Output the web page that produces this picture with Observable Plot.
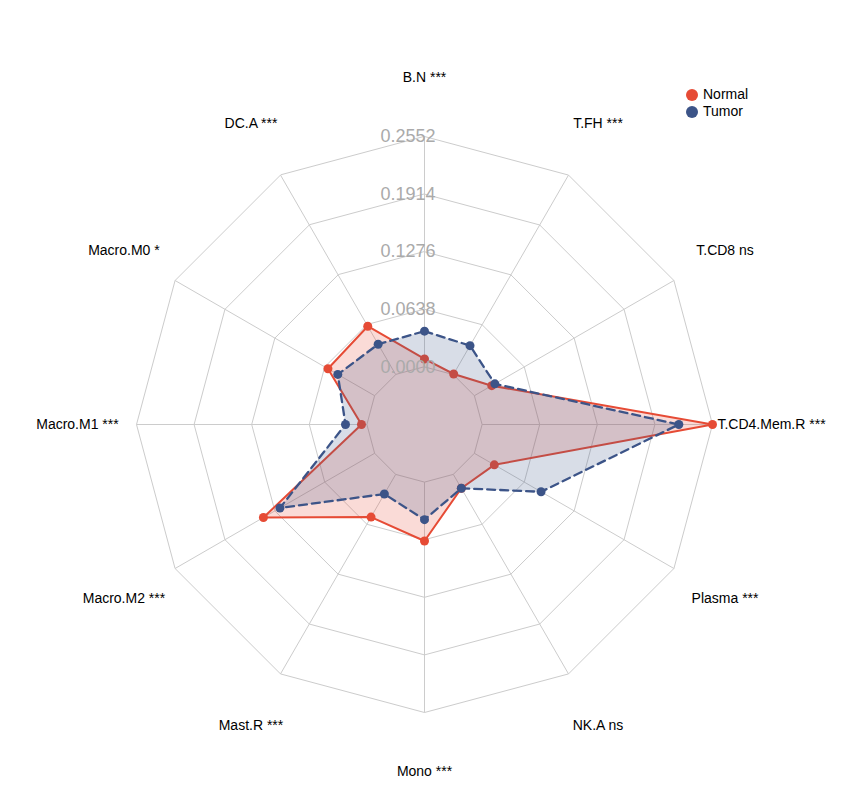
<!DOCTYPE html>
<html>
<head>
<meta charset="utf-8">
<script src="https://cdn.jsdelivr.net/npm/d3@7"></script>
<script src="https://cdn.jsdelivr.net/npm/@observablehq/plot@0.6"></script>
<style>
  html, body { margin: 0; padding: 0; background: #fff; }
  #wrap { position: relative; width: 841px; height: 812px; font-family: "Liberation Sans", Arial, Helvetica, sans-serif; }
  #legend { position: absolute; left: 686px; top: 86px; font-size: 14px; color: #000; line-height: 17px; }
  #legend .item { display: flex; align-items: center; }
  #legend .sw { width: 12px; height: 12px; border-radius: 50%; margin-right: 5px; }
</style>
</head>
<body>
<div id="wrap"><div id="legend"></div></div>
<script>
// ---- data ----
const categories = ["B.N ***", "T.FH ***", "T.CD8 ns", "T.CD4.Mem.R ***", "Plasma ***", "NK.A ns",
  "Mono ***", "Mast.R ***", "Macro.M2 ***", "Macro.M1 ***", "Macro.M0 *", "DC.A ***"];
const normalValues = [0.0088, 0.0008, 0.0222, 0.2552, 0.0255, 0.0178, 0.0652, 0.0546, 0.1422, 0.0060, 0.0597, 0.0619];
const tumorValues  = [0.0396, 0.0370, 0.0262, 0.2179, 0.0853, 0.0178, 0.0416, 0.0251, 0.1211, 0.0237, 0.0471, 0.0389];
const tickValues = [0.0000, 0.0638, 0.1276, 0.1914, 0.2552];
const seriesNames = ["Normal", "Tumor"];
const seriesColors = ["#E64B35", "#3C5488"];

// ---- geometry helpers ----
const W = 841, H = 812, cx = 424, cy = 424, R = 288;
const step = tickValues[1] - tickValues[0];
const rMin = tickValues[0] - step, rMax = tickValues[tickValues.length - 1];
const norm = v => (v - rMin) / (rMax - rMin);
const n = categories.length;
const ang = i => (2 * Math.PI * i) / n;
const px = (i, r) => r * Math.sin(ang(i));
const py = (i, r) => r * Math.cos(ang(i));

const rings = tickValues.flatMap(t => categories.map((c, i) => ({level: t, i})));
const spokes = categories.map((c, i) => ({c, i}));
const series = seriesNames.map((s, k) => ({
  name: s, color: seriesColors[k],
  pts: (k === 0 ? normalValues : tumorValues).map((v, i) => ({series: s, i, v}))
}));

const marks = [
  Plot.line(rings, {x: d => px(d.i, norm(d.level)), y: d => py(d.i, norm(d.level)), z: "level",
    curve: "linear-closed", stroke: "#cccccc", strokeWidth: 1}),
  Plot.link(spokes, {x1: d => px(d.i, norm(tickValues[0])), y1: d => py(d.i, norm(tickValues[0])),
    x2: d => px(d.i, 1), y2: d => py(d.i, 1), stroke: "#cccccc", strokeWidth: 1}),
];
series.forEach((s, k) => {
  marks.push(
    Plot.line(s.pts, {x: d => px(d.i, norm(d.v)), y: d => py(d.i, norm(d.v)), curve: "linear-closed",
      fill: s.color, fillOpacity: 0.2, stroke: "none"}),
    Plot.line(s.pts, {x: d => px(d.i, norm(d.v)), y: d => py(d.i, norm(d.v)), curve: "linear-closed",
      fill: "none", stroke: s.color, strokeWidth: k === 1 ? 2.3 : 2, strokeDasharray: k === 1 ? "8,5" : null}),
    Plot.dot(s.pts, {x: d => px(d.i, norm(d.v)), y: d => py(d.i, norm(d.v)), r: 4.5, fill: s.color, stroke: "none"})
  );
});
marks.push(
  Plot.text(tickValues, {x: 0, y: d => norm(d), text: d => d.toFixed(4), fill: "#aaaaaa", fontSize: 18,
    textAnchor: "end", dx: 11, dy: 0}),
  Plot.text(spokes, {x: d => px(d.i, 1.205), y: d => py(d.i, 1.205), text: "c", fill: "#000",
    fontSize: 14, textAnchor: "middle"})
);

const chart = Plot.plot({
  width: W, height: H,
  margin: 0,
  style: {fontFamily: '"Liberation Sans", Arial, Helvetica, sans-serif', background: "#fff"},
  x: {domain: [-cx / R, (W - cx) / R], range: [0, W], axis: null},
  y: {domain: [-(H - cy) / R, cy / R], range: [H, 0], axis: null},
  marks
});
document.getElementById("wrap").prepend(chart);

const legend = document.getElementById("legend");
seriesNames.forEach((s, k) => {
  const item = document.createElement("div");
  item.className = "item";
  item.innerHTML = `<span class="sw" style="background:${seriesColors[k]}"></span><span>${s}</span>`;
  legend.appendChild(item);
});
</script>
</body>
</html>
